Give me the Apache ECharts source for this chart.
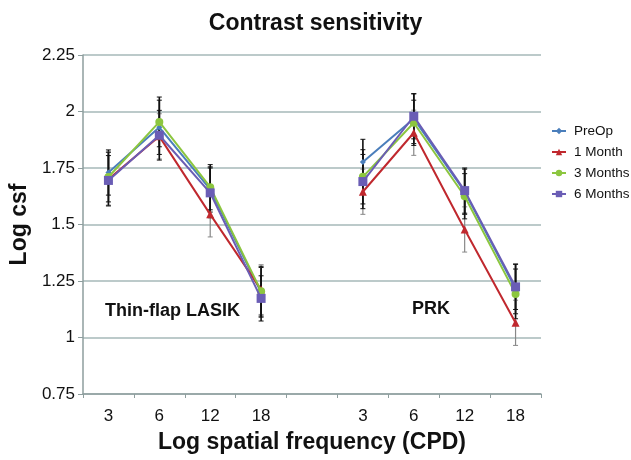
<!DOCTYPE html>
<html><head><meta charset="utf-8">
<script src="https://cdn.jsdelivr.net/npm/echarts@6/dist/echarts.min.js"></script>
<style>html,body{margin:0;padding:0;background:#fff}#c{width:631px;height:460px}</style>
</head><body><div id="c"></div>
<script>
const categories = ['3','6','12','18','','3','6','12','18'];
const yTicks = {min: 0.75, max: 2.25, interval: 0.25};
const seriesNames = ['PreOp','1 Month','3 Months','6 Months'];
const preOp    = [1.73, 1.93, 1.655, 1.20, null, 1.777, 1.968, 1.645, 1.215];
const month1   = [1.70, 1.89, 1.545, 1.212, null, 1.645, 1.906, 1.478, 1.065];
const months3  = [1.71, 1.954, 1.665, 1.205, null, 1.711, 1.95, 1.625, 1.193];
const months6  = [1.695, 1.895, 1.64, 1.173, null, 1.69, 1.979, 1.65, 1.224];
const errPreOp   = [0.10, 0.12, 0.10, 0.11, null, 0.10, 0.11, 0.10, 0.11];
const errMonth1  = [0.12, 0.10, 0.10, 0.11, null, 0.10, 0.10, 0.10, 0.10];
const errMonths3 = [0.11, 0.11, 0.10, 0.11, null, 0.12, 0.10, 0.10, 0.11];
const errMonths6 = [0.11, 0.11, 0.11, 0.10, null, 0.12, 0.10, 0.10, 0.10];
const groupLabels = ['Thin-flap LASIK', 'PRK'];

const values = [preOp, month1, months3, months6];
const errors = [errPreOp, errMonth1, errMonths3, errMonths6];
const colors = ['#4A7EBB', '#C0282E', '#8CC63F', '#6A5DB5'];
const errColors = ['#111', '#888', '#111', '#111'];
const symbols = ['diamond', 'triangle', 'circle', 'rect'];
const symbolSizes = [6, 8, 8, 9];
const FONT = '"Liberation Sans", Arial, sans-serif';

const chart = echarts.init(document.getElementById('c'));
const series = [];
values.forEach((vals, i) => {
  const data = [];
  vals.forEach((v, j) => { if (v != null) data.push([j, v - errors[i][j], v + errors[i][j]]); });
  series.push({
    type: 'custom', name: seriesNames[i] + ' err', z: 1, silent: true,
    encode: {x: 0, y: [1, 2]},
    data: data,
    renderItem: function (params, api) {
      const x = api.value(0), lo = api.value(1), hi = api.value(2);
      const p1 = api.coord([x, hi]), p2 = api.coord([x, lo]);
      const w = 2.5, c = errColors[i];
      return {type: 'group', children: [
        {type: 'line', shape: {x1: p1[0], y1: p1[1], x2: p2[0], y2: p2[1]}, style: {stroke: c, lineWidth: i === 1 ? 1.2 : 1.6}},
        {type: 'line', shape: {x1: p1[0] - w, y1: p1[1], x2: p1[0] + w, y2: p1[1]}, style: {stroke: c, lineWidth: 1}},
        {type: 'line', shape: {x1: p2[0] - w, y1: p2[1], x2: p2[0] + w, y2: p2[1]}, style: {stroke: c, lineWidth: 1}}
      ]};
    }
  });
});
values.forEach((vals, i) => {
  series.push({
    type: 'line', name: seriesNames[i], data: vals, z: 3 + i,
    connectNulls: false,
    symbol: symbols[i], symbolSize: symbolSizes[i], showSymbol: true,
    lineStyle: {color: colors[i], width: 2},
    itemStyle: {color: colors[i]}
  });
});

chart.setOption({
  animation: false,
  backgroundColor: '#fff',
  title: {text: 'Contrast sensitivity', left: 'center', top: 7,
    textStyle: {fontFamily: FONT, fontSize: 23, fontWeight: 'bold', color: '#111'}},
  legend: {data: seriesNames, orient: 'vertical', left: 551, top: 124, padding: 0,
    itemWidth: 14, itemHeight: 8, itemGap: 7,
    textStyle: {fontFamily: FONT, fontSize: 13.5, color: '#111', padding: [0, 0, 0, 3]}},
  grid: {left: 81, right: 90, top: 55, bottom: 66, containLabel: false},
  xAxis: {type: 'category', data: categories, boundaryGap: true,
    name: 'Log spatial frequency (CPD)', nameLocation: 'middle', nameGap: 37,
    nameTextStyle: {fontFamily: FONT, fontSize: 23, fontWeight: 'bold', color: '#111'},
    axisLine: {lineStyle: {color: '#8E9E9E', width: 1.5}},
    axisTick: {show: true, alignWithLabel: false, interval: 0, length: 4, lineStyle: {color: '#8E9E9E'}},
    axisLabel: {interval: 0, fontFamily: FONT, fontSize: 17, color: '#111', margin: 14},
    splitLine: {show: false}},
  yAxis: {type: 'value', min: yTicks.min, max: yTicks.max, interval: yTicks.interval,
    name: 'Log csf', nameLocation: 'middle', nameGap: 48,
    nameTextStyle: {fontFamily: FONT, fontSize: 23, fontWeight: 'bold', color: '#111'},
    axisLine: {show: true, lineStyle: {color: '#8E9E9E', width: 1.5}},
    axisTick: {show: true, length: 5, lineStyle: {color: '#8E9E9E'}},
    axisLabel: {fontFamily: FONT, fontSize: 17, color: '#111', margin: 8},
    splitLine: {show: true, lineStyle: {color: '#A6B8B8', width: 1.5}}},
  graphic: [
    {type: 'text', left: 105, top: 302, style: {text: groupLabels[0], font: 'bold 18px ' + FONT, fill: '#111'}},
    {type: 'text', left: 412, top: 300, style: {text: groupLabels[1], font: 'bold 18px ' + FONT, fill: '#111'}}
  ],
  series: series
});
</script></body></html>
